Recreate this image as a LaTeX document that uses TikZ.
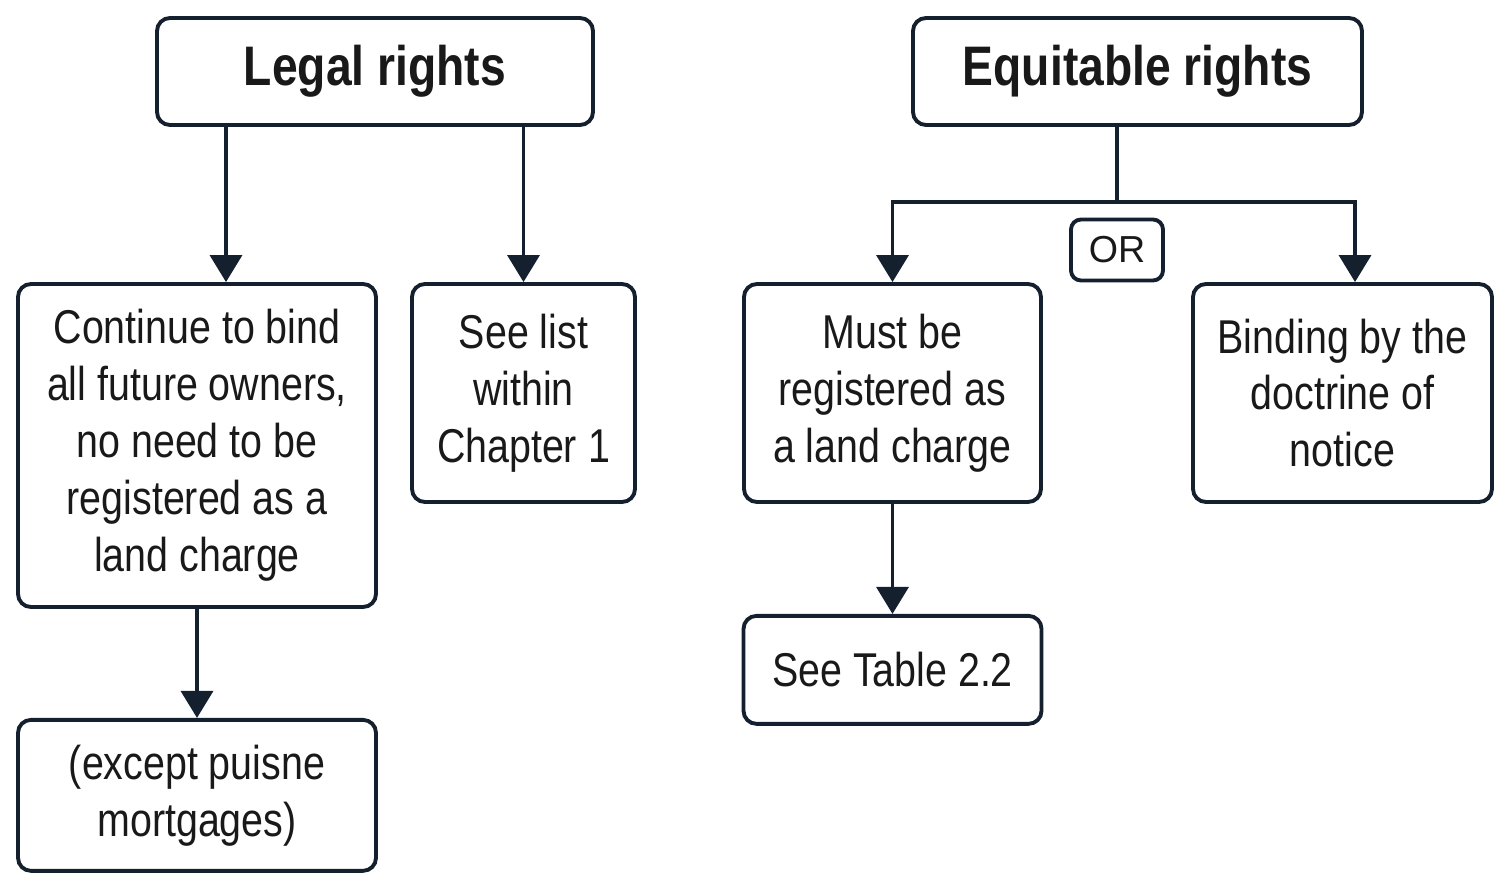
\documentclass[tikz,border=0pt]{standalone}
\usepackage{fontspec}
\setmainfont{Liberation Sans}[FakeStretch=0.83]
\newfontfamily\orfont{Liberation Sans}
\usepackage{tikz}
\usetikzlibrary{arrows.meta,positioning}
\usepackage{xcolor}
\definecolor{ink}{HTML}{15202F}

\begin{document}
\begin{tikzpicture}[
  box/.style={draw=ink, line width=2.2pt, rounded corners=0.26cm, align=center, inner sep=0pt,
    font=\fontsize{27}{32.4}\selectfont, text=black!90},
  head/.style={box, font=\bfseries\fontsize{31.7}{38}\selectfont},
  orbox/.style={box, rounded corners=0.2cm, font=\orfont\fontsize{21.4}{26}\selectfont},
  arrow/.style={-{Triangle[length=5.4mm, width=6.4mm]}, line width=2pt, draw=ink},
  link/.style={line width=2pt, draw=ink}
]
  \useasboundingbox (0,0) rectangle (30.2,17.8);

  \node[head, minimum width=8.72cm, minimum height=2.14cm] (legal) at (7.5,16.37) {Legal rights};
  \node[head, minimum width=8.98cm, minimum height=2.14cm] (equit) at (22.75,16.37) {Equitable rights};

  \node[box, minimum width=7.16cm, minimum height=6.46cm] (cont) at (3.94,8.89)
    {Continue to bind\\all future owners,\\no need to be\\registered as a\\land charge};
  \node[box, minimum width=4.46cm, minimum height=4.36cm] (seelist) at (10.47,9.94)
    {See list\\within\\Chapter 1};
  \node[box, minimum width=5.94cm, minimum height=4.36cm] (must) at (17.85,9.94)
    {Must be\\registered as\\a land charge};
  \node[box, minimum width=5.98cm, minimum height=4.36cm] (bind) at (26.85,9.94)
    {Binding by the\\doctrine of\\notice};
  \node[orbox, minimum width=1.84cm, minimum height=1.22cm] (or) at (22.34,12.8) {OR};

  \node[box, minimum width=5.96cm, minimum height=2.16cm, below=2.2cm of must] (table) {See Table 2.2};
  \node[box, minimum width=7.16cm, minimum height=3.02cm, below=2.18cm of cont] (except)
    {(except puisne\\mortgages)};

  % legal rights
  \draw[arrow] ([xshift=-2.98cm]legal.south) -- ([xshift=-2.98cm]legal.south |- cont.north);
  \draw[arrow] (legal.south -| seelist) -- (seelist.north);
  \draw[arrow] (cont) -- (except);

  % equitable rights
  \draw[link] (equit.south -| or) -- ++(0,-1.5) coordinate (split);
  \draw[arrow] (split) -| (must.north);
  \draw[arrow] (split) -| ([xshift=0.25cm]bind.north);
  \draw[arrow] (must) -- (table);
\end{tikzpicture}
\end{document}
